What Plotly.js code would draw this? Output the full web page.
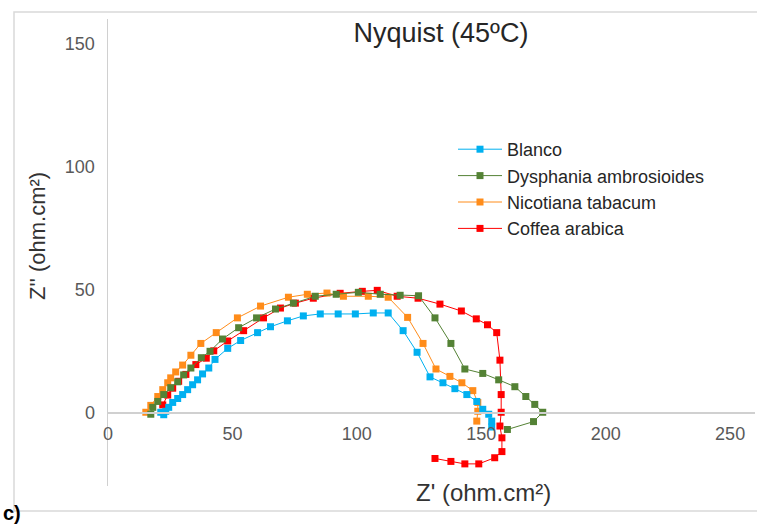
<!DOCTYPE html>
<html>
<head>
<meta charset="utf-8">
<script src="https://cdn.plot.ly/plotly-3.0.1.min.js"></script>
<style>html,body{margin:0;padding:0;background:#fff;}#chart{width:757px;height:527px;}</style>
</head>
<body>
<div id="chart"></div>
<script>
// Series names (legend order)
const seriesNames = ["Blanco", "Dysphania ambrosioides", "Nicotiana tabacum", "Coffea arabica"];

// Blanco
const blancoX = [21.2, 22.4, 23.2, 24.4, 26, 28, 30, 32, 34, 36, 38, 40.5, 43, 48.1, 53.3, 60.1, 65.3, 72.1, 78.5, 85.3, 92.5, 99.4, 106.6, 112.6, 118.6, 124.2, 129.4, 134.6, 139.4, 144.2, 148.2, 150.6, 153, 154.2, 154.2];
const blancoY = [0, -1, 0.4, 2, 4, 5.6, 7.2, 9.2, 11.2, 13.2, 15.6, 18, 21.5, 26, 29.2, 32.4, 34.8, 37.2, 39.2, 40, 40, 40, 40.4, 40.4, 33.2, 24.4, 14.4, 12, 9.6, 7.2, 4.4, 1.2, -0.8, -3.6, -6];

// Dysphania ambrosioides
const dysphaniaX = [17.2, 18, 20, 22.4, 25.2, 28, 30.4, 33.3, 37.5, 41, 46, 52.5, 59.7, 67.3, 74.5, 83.3, 91.7, 100.6, 109.4, 117.4, 124.8, 131.4, 137.8, 143.4, 150.6, 157, 163.5, 167.9, 171.5, 174.7, 171, 160.5];
const dysphaniaY = [-0.8, 2, 4.4, 7.2, 10, 12.4, 15.2, 18, 22.2, 24.8, 29.8, 34.4, 38.4, 42, 44.4, 47.2, 48, 48.8, 48, 47.6, 47.4, 38.4, 28, 17.6, 15.8, 13.2, 10.4, 6.4, 3.2, 0, -3.8, -7];

// Nicotiana tabacum
const nicotianaX = [15.2, 17.2, 20, 22, 24, 25.2, 27.2, 30, 33.3, 37.3, 43.5, 52, 61.3, 72.5, 80.1, 88, 94.6, 104.6, 112.6, 120.4, 126.6, 131.8, 137.4, 142.2, 146.6, 148.6, 148.6, 148.2];
const nicotianaY = [0, 2.8, 6.4, 9.2, 12, 14, 16.4, 19.2, 23.2, 28, 32.4, 38.4, 43.2, 46.8, 48, 48.5, 47.2, 47.2, 46.8, 38.6, 28, 17.6, 14.6, 12, 8.8, 4, 0.4, -3.6];

// Coffea arabica
const coffeaX = [22, 24, 26, 28.4, 31.3, 35.3, 39.5, 42.5, 48.1, 54.5, 62.5, 69.3, 75.3, 82.5, 93.3, 102.2, 108.2, 116.2, 124.6, 133.4, 142, 148, 152.5, 156.2, 157.5, 158, 158, 157.5, 158.3, 158.3, 155.4, 149, 143.4, 137.8, 131.4];
const coffeaY = [3, 7, 9.8, 12.6, 15.4, 19.4, 22, 25, 29, 33.2, 38.4, 42.4, 44.4, 46.4, 48.4, 49.2, 49.6, 47.2, 46.4, 44, 41.2, 38, 35.6, 32.4, 21.2, 7.2, 0, -5.6, -10.4, -16, -18.5, -21, -21, -20, -18.8];

// Axis ticks
const xTicks = [0, 50, 100, 150, 200, 250];
const yTicks = [0, 50, 100, 150];

const colors = ["#00B0F0", "#548235", "#FF8C1A", "#FF0000"];
const xs = [blancoX, dysphaniaX, nicotianaX, coffeaX];
const ys = [blancoY, dysphaniaY, nicotianaY, coffeaY];

const FONT = "Liberation Sans, Arial, sans-serif";

// drawn in reverse so Blanco sits on top; legend order restored with traceorder "reversed"
const traces = seriesNames.map((name, i) => ({
  type: "scatter",
  mode: "lines+markers",
  name: name,
  x: xs[i],
  y: ys[i],
  line: {color: colors[i], width: 1},
  marker: {color: colors[i], symbol: "square", size: 7},
  cliponaxis: false
})).reverse();

const L = 108, R = 2, T = 19, B = 41;
const W = 757, H = 527;
const pw = W - L - R, ph = H - T - B;
const px = v => (v - L) / pw;
const py = v => (H - B - v) / ph;

const layout = {
  width: W, height: H,
  margin: {l: L, r: R, t: T, b: B, pad: 0},
  paper_bgcolor: "#ffffff",
  plot_bgcolor: "#ffffff",
  font: {family: FONT, color: "#595959"},
  title: {
    text: "Nyquist (45ºC)",
    font: {family: FONT, size: 27, color: "#262626"},
    x: 441 / W, xref: "container", xanchor: "center",
    y: 1 - 33 / H, yref: "container", yanchor: "middle"
  },
  xaxis: {
    range: [0, 260],
    tickvals: xTicks,
    ticktext: xTicks.map(String),
    anchor: "free",
    position: 30 / 190,
    showline: true, linecolor: "#d0d0d0", linewidth: 1.5,
    showgrid: false, zeroline: false,
    ticks: "",
    ticklabelstandoff: 5,
    tickfont: {family: FONT, size: 18, color: "#595959"}
  },
  yaxis: {
    range: [-30, 160],
    tickvals: yTicks,
    ticktext: yTicks.map(String),
    showline: true, linecolor: "#d0d0d0", linewidth: 1.5,
    showgrid: false, zeroline: false,
    ticks: "",
    ticklabelstandoff: 8,
    tickfont: {family: FONT, size: 18, color: "#595959"}
  },
  showlegend: true,
  legend: {
    x: px(453), y: py(131), xanchor: "left", yanchor: "top",
    traceorder: "reversed",
    bgcolor: "rgba(0,0,0,0)",
    font: {family: FONT, size: 18, color: "#262626"},
    itemwidth: 44
  },
  annotations: [
    {text: "Z' (ohm.cm²)", xref: "paper", yref: "paper", x: px(483), y: py(493),
     xanchor: "center", yanchor: "middle", showarrow: false,
     font: {family: FONT, size: 24, color: "#333333"}},
    {text: "Z'' (ohm.cm²)", xref: "paper", yref: "paper", x: px(38), y: py(236),
     xanchor: "center", yanchor: "middle", textangle: -90, showarrow: false,
     font: {family: FONT, size: 22, color: "#333333"}},
    {text: "<b>c)</b>", xref: "paper", yref: "paper", x: px(1), y: py(513),
     xanchor: "left", yanchor: "middle", showarrow: false,
     font: {family: FONT, size: 20, color: "#000000"}}
  ],
  shapes: [
    {type: "rect", xref: "paper", yref: "paper", layer: "below",
     x0: px(14), x1: px(770), y0: py(511), y1: py(12),
     line: {color: "#d9d9d9", width: 1.5}, fillcolor: "rgba(0,0,0,0)"}
  ]
};

Plotly.newPlot("chart", traces, layout, {displayModeBar: false, staticPlot: true});
</script>
</body>
</html>
